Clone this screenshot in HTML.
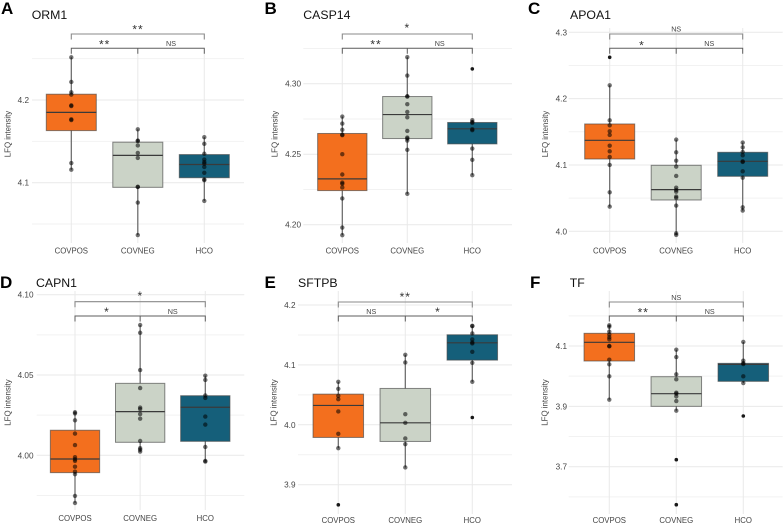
<!DOCTYPE html>
<html lang="en">
<head>
<meta charset="utf-8">
<title>LFQ intensity boxplots</title>
<style>
html,body{margin:0;padding:0;background:#fff;width:784px;height:524px;overflow:hidden}
svg{display:block;font-family:"Liberation Sans",sans-serif;filter:blur(.3px)}
.letter{font-size:17px;font-weight:bold;fill:#000}
.title{font-size:12.3px;fill:#111}
.ytitle{font-size:7.9px;fill:#444;text-anchor:middle}
.ns{font-size:7.2px;fill:#444;text-anchor:middle}
.star{font-size:12px;fill:#333;text-anchor:middle;letter-spacing:1px}
.tick{font-size:8.2px;fill:#444;text-anchor:end}
.cat{font-size:7.8px;fill:#444;text-anchor:middle}
</style>
</head>
<body>
<svg id="figure" width="784" height="524" viewBox="0 0 784 524" xmlns="http://www.w3.org/2000/svg">
  <g id="panel-orm1"></g>
  <g id="panel-casp14"></g>
  <g id="panel-apoa1"></g>
  <g id="panel-capn1"></g>
  <g id="panel-sftpb"></g>
  <g id="panel-tf"></g>

  <text class="letter" x="1" y="14">A</text>
  <text class="title" x="31.7" y="19">ORM1</text>
  <text class="ytitle" transform="translate(10.5,134) rotate(-90)">LFQ intensity</text>
  <text class="star" x="138" y="33.5">**</text>
  <text class="star" x="104.7" y="48.5">**</text>
  <text class="ns" x="171" y="46">NS</text>

  <text class="letter" x="264.5" y="14">B</text>
  <text class="title" x="303.3" y="19">CASP14</text>
  <text class="ytitle" transform="translate(277.5,134) rotate(-90)">LFQ intensity</text>
  <text class="star" x="407.3" y="32">*</text>
  <text class="star" x="376" y="48.5">**</text>
  <text class="ns" x="439.7" y="46">NS</text>

  <text class="letter" x="528" y="14">C</text>
  <text class="title" x="570" y="19">APOA1</text>
  <text class="ytitle" transform="translate(548,134) rotate(-90)">LFQ intensity</text>
  <text class="ns" x="676.2" y="31.5">NS</text>
  <text class="star" x="642" y="49.5">*</text>
  <text class="ns" x="709.3" y="46">NS</text>

  <text class="letter" x="0" y="288">D</text>
  <text class="title" x="36" y="287">CAPN1</text>
  <text class="ytitle" transform="translate(10.5,402.5) rotate(-90)">LFQ intensity</text>
  <text class="star" x="140.3" y="300">*</text>
  <text class="star" x="107" y="316">*</text>
  <text class="ns" x="172.7" y="314">NS</text>

  <text class="letter" x="264.5" y="288">E</text>
  <text class="title" x="298" y="287">SFTPB</text>
  <text class="ytitle" transform="translate(276.5,402.5) rotate(-90)">LFQ intensity</text>
  <text class="star" x="405.3" y="301">**</text>
  <text class="ns" x="371.3" y="314">NS</text>
  <text class="star" x="438" y="316">*</text>

  <text class="letter" x="530" y="288">F</text>
  <text class="title" x="569.7" y="287">TF</text>
  <text class="ytitle" transform="translate(547.5,402.5) rotate(-90)">LFQ intensity</text>
  <text class="ns" x="676.3" y="300">NS</text>
  <text class="star" x="643.3" y="316.5">**</text>
  <text class="ns" x="709.7" y="314">NS</text>
</svg>

<script>
const categories = ['COVPOS', 'COVNEG', 'HCO'];

const orm1TickLabels = ['4.1', '4.2'];
const orm1MinorTicks = [4.05, 4.15, 4.25];
const orm1Q1 = [4.163, 4.0944, 4.106];
const orm1Median = [4.185, 4.133, 4.122];
const orm1Q3 = [4.207, 4.149, 4.134];
const orm1WhiskerLow = [4.1157, 4.0367, 4.078];
const orm1WhiskerHigh = [4.2516, 4.1645, 4.155];
const orm1Covpos = [4.2516, 4.2218, 4.2093, 4.2065, 4.1935, 4.1927, 4.1766, 4.1758, 4.1238, 4.1157];
const orm1Covneg = [4.1645, 4.151, 4.1504, 4.145, 4.136, 4.13, 4.095, 4.0948, 4.076, 4.0367];
const orm1Hco = [4.155, 4.147, 4.135, 4.128, 4.125, 4.123, 4.119, 4.112, 4.104, 4.103, 4.078];

const casp14TickLabels = ['4.20', '4.25', '4.30'];
const casp14MinorTicks = [4.225, 4.275, 4.325];
const casp14Q1 = [4.2242, 4.2611, 4.2573];
const casp14Median = [4.2325, 4.2781, 4.268];
const casp14Q3 = [4.2647, 4.2909, 4.2725];
const casp14WhiskerLow = [4.1926, 4.2219, 4.2351];
const casp14WhiskerHigh = [4.2767, 4.3188, 4.2741];
const casp14Covpos = [4.2767, 4.2717, 4.2673, 4.2639, 4.2635, 4.25, 4.2356, 4.2299, 4.229, 4.2264, 4.2186, 4.198, 4.1926];
const casp14Covneg = [4.3188, 4.3058, 4.2911, 4.2909, 4.2855, 4.28, 4.2762, 4.2665, 4.2618, 4.2611, 4.2597, 4.2531, 4.2219];
const casp14Hco = [4.3105, 4.2741, 4.2729, 4.2722, 4.2677, 4.267, 4.254, 4.246, 4.2351];

const apoa1TickLabels = ['4.0', '4.1', '4.2', '4.3'];
const apoa1MinorTicks = [4.05, 4.15, 4.25];
const apoa1Q1 = [4.109, 4.0472, 4.0829];
const apoa1Median = [4.1372, 4.0628, 4.1055];
const apoa1Q3 = [4.1618, 4.0995, 4.1191];
const apoa1WhiskerLow = [4.0372, 3.9945, 4.0312];
const apoa1WhiskerHigh = [4.2201, 4.1382, 4.1337];
const apoa1Covpos = [4.2623, 4.2201, 4.1673, 4.1598, 4.1508, 4.1452, 4.1291, 4.1206, 4.1121, 4.1, 4.0588, 4.0372];
const apoa1Covneg = [4.1382, 4.1191, 4.1065, 4.0975, 4.0834, 4.0658, 4.0623, 4.0598, 4.0523, 4.0503, 4.0387, 3.997, 3.9945];
const apoa1Hco = [4.1337, 4.1266, 4.1196, 4.1146, 4.1055, 4.1045, 4.0905, 4.0809, 4.0362, 4.0312];

const capn1TickLabels = ['4.00', '4.05', '4.10'];
const capn1MinorTicks = [3.975, 4.025, 4.075];
const capn1Q1 = [3.9892, 4.0081, 4.0087];
const capn1Median = [3.9977, 4.0272, 4.0299];
const capn1Q3 = [4.0156, 4.0448, 4.0371];
const capn1WhiskerLow = [3.9703, 4.0023, 3.9961];
const capn1WhiskerHigh = [4.0268, 4.0811, 4.0496];
const capn1Covpos = [4.0268, 4.0261, 4.0218, 4.0135, 4.0064, 3.9988, 3.9975, 3.9965, 3.9929, 3.9898, 3.9882, 3.9747, 3.9703];
const capn1Covneg = [4.0811, 4.0763, 4.0531, 4.0419, 4.0297, 4.0288, 4.0257, 4.0228, 4.0089, 4.0044, 4.0035, 4.0023];
const capn1Hco = [4.0496, 4.0469, 4.0373, 4.0357, 4.0241, 4.0191, 4.0052, 3.9965, 3.9961];

const sftpbTickLabels = ['3.9', '4.0', '4.1', '4.2'];
const sftpbMinorTicks = [3.95, 4.05, 4.15];
const sftpbQ1 = [3.9789, 3.9722, 4.108];
const sftpbMedian = [4.0323, 4.0033, 4.1369];
const sftpbQ3 = [4.0512, 4.0607, 4.1503];
const sftpbWhiskerLow = [3.961, 3.9288, 4.0718];
const sftpbWhiskerHigh = [4.0718, 4.1169, 4.1653];
const sftpbCovpos = [4.0718, 4.0601, 4.0484, 4.0428, 4.0223, 3.985, 3.961, 3.8664];
const sftpbCovneg = [4.1169, 4.1041, 4.0178, 4.0033, 3.9772, 3.9677, 3.9288];
const sftpbHco = [4.1653, 4.1647, 4.1525, 4.1425, 4.1375, 4.1358, 4.1219, 4.1035, 4.0718, 4.0122];

const tfTickLabels = ['3.7', '3.9', '4.1'];
const tfMinorTicks = [3.6, 3.8, 4.0, 4.2];
const tfQ1 = [4.0503, 3.9, 3.9829];
const tfMedian = [4.1122, 3.942, 4.039];
const tfQ3 = [4.142, 3.9983, 4.0425];
const tfWhiskerLow = [3.9221, 3.8856, 3.9773];
const tfWhiskerHigh = [4.1685, 4.0878, 4.1133];
const tfCovpos = [4.1685, 4.1641, 4.1475, 4.1376, 4.1287, 4.1221, 4.1, 4.0989, 4.0547, 4.0392, 3.9994, 3.9221];
const tfCovneg = [4.0878, 4.0635, 4.0061, 3.9895, 3.9453, 3.942, 3.9331, 3.9177, 3.8856, 3.7232, 3.574];
const tfHco = [4.1133, 4.0514, 4.0436, 4.0403, 3.9994, 3.9773, 3.868];

const boxColors = ['#f36f1e', '#cbd3c7', '#155f7a'];
const NS = 'http://www.w3.org/2000/svg';

function make(parent, tag, attrs, text) {
  const el = document.createElementNS(NS, tag);
  for (const k in attrs) el.setAttribute(k, attrs[k]);
  if (text !== undefined) el.textContent = text;
  parent.appendChild(el);
  return el;
}

function drawPanel(cfg) {
  const root = document.getElementById(cfg.id);
  const numericTicks = cfg.tickLabels.map(Number);
  const v1 = numericTicks[0];
  const v2 = numericTicks[numericTicks.length - 1];
  const yScale = function (v) { return cfg.yFirst + (v - v1) * (cfg.yLast - cfg.yFirst) / (v2 - v1); };
  const xScale = function (i) { return cfg.xFirst + i * (cfg.xLast - cfg.xFirst) / (categories.length - 1); };

  cfg.minorTicks.forEach(function (v) {
    const line = make(root, 'line', { x1: cfg.left, x2: cfg.right, y1: yScale(v), y2: yScale(v), stroke: '#f2f2f2', 'stroke-width': 1 });
    
    
  });
  numericTicks.forEach(function (v, i) {
    const line = make(root, 'line', { x1: cfg.left, x2: cfg.right, y1: yScale(v), y2: yScale(v), stroke: '#e9e9e9', 'stroke-width': 1 });
    
    
    const label = make(root, 'text', { class: 'tick', x: cfg.tickX, y: yScale(v) + 3 }, cfg.tickLabels[i]);
    
    
  });

  categories.forEach(function (name, i) {
    const x = xScale(i);
    const grid = make(root, 'line', { x1: x, x2: x, y1: cfg.top, y2: cfg.bottom, stroke: '#e9e9e9', 'stroke-width': 1 });
    
    
    const label = make(root, 'text', { class: 'cat', x: x, y: cfg.catY }, name);
    
    

    const whisker = make(root, 'line', { x1: x, x2: x, y1: yScale(cfg.high[i]), y2: yScale(cfg.low[i]), stroke: '#666', 'stroke-width': 1.2 });
    
    

    const yTop = yScale(cfg.q3[i]);
    const yBottom = yScale(cfg.q1[i]);
    const box = make(root, 'rect', { x: x - cfg.boxWidth / 2, y: yTop, width: cfg.boxWidth, height: yBottom - yTop, fill: boxColors[i], stroke: 'rgba(70,70,70,.65)', 'stroke-width': 1 });
    
    

    const median = make(root, 'line', { x1: x - cfg.boxWidth / 2, x2: x + cfg.boxWidth / 2, y1: yScale(cfg.median[i]), y2: yScale(cfg.median[i]), stroke: '#3a3a3a', 'stroke-width': 1.2 });
    
    
  });

  categories.forEach(function (name, i) {
    cfg.points[i].forEach(function (v) {
      const outlier = v > cfg.high[i] || v < cfg.low[i];
      const dot = make(root, 'circle', { cx: xScale(i), cy: yScale(v), r: outlier ? 1.8 : 2.2, fill: outlier ? 'rgba(0,0,0,.9)' : 'rgba(0,0,0,.55)' });
      
      
    });
  });

  const xa = xScale(0), xb = xScale(1), xc = xScale(2);
  const upper = make(root, 'path', { d: 'M' + xa + ' ' + (cfg.bracketTop + 5.5) + 'V' + cfg.bracketTop + 'H' + xc + 'V' + (cfg.bracketTop + 5.5), fill: 'none', stroke: '#8a8a8a', 'stroke-width': 1.1 });
  
  
  const lower = make(root, 'path', { d: 'M' + xa + ' ' + (cfg.bracketLow + 5.5) + 'V' + cfg.bracketLow + 'H' + xc + 'V' + (cfg.bracketLow + 5.5) + 'M' + xb + ' ' + cfg.bracketLow + 'V' + (cfg.bracketLow + 5.5), fill: 'none', stroke: '#5e5e5e', 'stroke-width': 1 });
  
  
}

drawPanel({ id: 'panel-orm1', tickLabels: orm1TickLabels, minorTicks: orm1MinorTicks, q1: orm1Q1, median: orm1Median, q3: orm1Q3, low: orm1WhiskerLow, high: orm1WhiskerHigh, points: [orm1Covpos, orm1Covneg, orm1Hco],
  xFirst: 71.3, xLast: 204.3, yFirst: 182.7, yLast: 100, left: 32, right: 244, top: 52, bottom: 243, tickX: 29, catY: 253.5, boxWidth: 50, bracketTop: 34, bracketLow: 48.3 });
drawPanel({ id: 'panel-casp14', tickLabels: casp14TickLabels, minorTicks: casp14MinorTicks, q1: casp14Q1, median: casp14Median, q3: casp14Q3, low: casp14WhiskerLow, high: casp14WhiskerHigh, points: [casp14Covpos, casp14Covneg, casp14Hco],
  xFirst: 342.3, xLast: 472.3, yFirst: 224.7, yLast: 83.7, left: 303.3, right: 512, top: 48, bottom: 243, tickX: 301, catY: 253.5, boxWidth: 49.3, bracketTop: 34, bracketLow: 48.3 });
drawPanel({ id: 'panel-apoa1', tickLabels: apoa1TickLabels, minorTicks: apoa1MinorTicks, q1: apoa1Q1, median: apoa1Median, q3: apoa1Q3, low: apoa1WhiskerLow, high: apoa1WhiskerHigh, points: [apoa1Covpos, apoa1Covneg, apoa1Hco],
  xFirst: 609.7, xLast: 742.7, yFirst: 231.3, yLast: 32.3, left: 568.7, right: 782.7, top: 28, bottom: 243, tickX: 567, catY: 253.5, boxWidth: 50, bracketTop: 34, bracketLow: 48.3 });
drawPanel({ id: 'panel-capn1', tickLabels: capn1TickLabels, minorTicks: capn1MinorTicks, q1: capn1Q1, median: capn1Median, q3: capn1Q3, low: capn1WhiskerLow, high: capn1WhiskerHigh, points: [capn1Covpos, capn1Covneg, capn1Hco],
  xFirst: 75, xLast: 205.3, yFirst: 455.3, yLast: 294.7, left: 36.7, right: 244.3, top: 291, bottom: 510, tickX: 33.5, catY: 521, boxWidth: 49.3, bracketTop: 301.7, bracketLow: 316 });
drawPanel({ id: 'panel-sftpb', tickLabels: sftpbTickLabels, minorTicks: sftpbMinorTicks, q1: sftpbQ1, median: sftpbMedian, q3: sftpbQ3, low: sftpbWhiskerLow, high: sftpbWhiskerHigh, points: [sftpbCovpos, sftpbCovneg, sftpbHco],
  xFirst: 338.3, xLast: 472.3, yFirst: 484.7, yLast: 305, left: 298, right: 512, top: 291, bottom: 514, tickX: 295.5, catY: 523, boxWidth: 50.5, bracketTop: 302, bracketLow: 316 });
drawPanel({ id: 'panel-tf', tickLabels: tfTickLabels, minorTicks: tfMinorTicks, q1: tfQ1, median: tfMedian, q3: tfQ3, low: tfWhiskerLow, high: tfWhiskerHigh, points: [tfCovpos, tfCovneg, tfHco],
  xFirst: 609.3, xLast: 743.3, yFirst: 466.7, yLast: 346, left: 568.7, right: 782.7, top: 291, bottom: 514, tickX: 567, catY: 523, boxWidth: 50.5, bracketTop: 302, bracketLow: 316 });
</script>
</body>
</html>
